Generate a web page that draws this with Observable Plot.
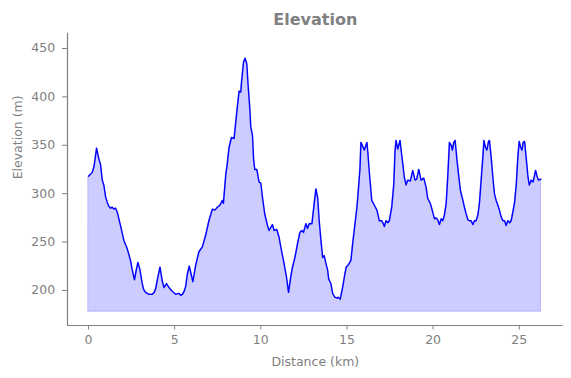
<!DOCTYPE html>
<html>
<head>
<meta charset="utf-8">
<script src="https://cdn.jsdelivr.net/npm/d3@7"></script>
<script src="https://cdn.jsdelivr.net/npm/@observablehq/plot@0.6"></script>
<style>
  html, body { margin: 0; padding: 0; background: #fff; }
  svg { display: block; }
</style>
</head>
<body>
<div id="chart"></div>
<script>
const distanceKm = [
  0.00, 0.22, 0.32, 0.47, 0.60, 0.70, 0.80, 0.89, 0.99, 1.09, 1.18, 1.28, 1.38, 1.47, 1.57, 1.67,
  1.86, 2.05, 2.25, 2.44, 2.53, 2.67, 2.76, 2.87, 2.98, 3.12, 3.20, 3.31, 3.51, 3.70, 3.81, 3.90,
  4.03, 4.15, 4.28, 4.38, 4.53, 4.67, 4.77, 4.87, 5.06, 5.25, 5.35, 5.45, 5.55, 5.64, 5.74, 5.85,
  5.97, 6.06, 6.22, 6.41, 6.61, 6.80, 6.99, 7.19, 7.33, 7.48, 7.63, 7.77, 7.83, 7.97, 8.05, 8.16,
  8.30, 8.45, 8.60, 8.74, 8.84, 8.88, 9.00, 9.09, 9.19, 9.26, 9.36, 9.42, 9.52, 9.58, 9.65, 9.77,
  9.90, 10.00, 10.10, 10.23, 10.39, 10.48, 10.68, 10.77, 10.93, 11.06, 11.16, 11.35, 11.49, 11.61,
  11.74, 11.84, 11.98, 12.13, 12.27, 12.38, 12.48, 12.62, 12.71, 12.81, 12.97, 13.10, 13.20, 13.30,
  13.39, 13.49, 13.59, 13.68, 13.78, 13.88, 13.94, 14.07, 14.17, 14.30, 14.42, 14.49, 14.61, 14.75,
  14.88, 14.96, 15.10, 15.23, 15.33, 15.47, 15.58, 15.66, 15.76, 15.81, 16.01, 16.16, 16.22, 16.31,
  16.44, 16.59, 16.74, 16.88, 17.02, 17.11, 17.17, 17.27, 17.37, 17.46, 17.60, 17.72, 17.79, 17.85,
  17.95, 18.08, 18.24, 18.33, 18.43, 18.53, 18.68, 18.82, 18.95, 19.05, 19.17, 19.30, 19.46, 19.59,
  19.69, 19.84, 19.98, 20.08, 20.17, 20.27, 20.37, 20.47, 20.56, 20.66, 20.76, 20.85, 20.95, 21.05,
  21.12, 21.20, 21.28, 21.38, 21.47, 21.59, 21.73, 21.82, 21.92, 22.02, 22.11, 22.21, 22.31, 22.40,
  22.50, 22.60, 22.69, 22.79, 22.89, 22.95, 23.04, 23.12, 23.22, 23.27, 23.37, 23.47, 23.56, 23.66,
  23.76, 23.85, 23.95, 24.05, 24.15, 24.24, 24.34, 24.44, 24.53, 24.63, 24.73, 24.83, 24.92, 25.00,
  25.08, 25.16, 25.23, 25.31, 25.41, 25.51, 25.58, 25.70, 25.80, 25.89, 25.95, 26.05, 26.12, 26.26
];
const elevationM = [
  318, 322, 328, 347, 336, 330, 314, 309, 297, 291, 287, 285, 286, 284, 285, 281,
  267, 252, 243, 231, 222, 211, 220, 229, 222, 207, 201, 198, 196, 196, 198, 202,
  214, 224, 210, 203, 207, 203, 201, 199, 196, 197, 195, 196, 199, 204, 217, 225,
  216, 209, 226, 240, 245, 257, 272, 284, 283, 286, 288, 293, 290, 320, 330, 348,
  358, 357, 383, 406, 405, 415, 436, 440, 434, 413, 389, 369, 360, 336, 325, 325,
  312, 311, 296, 279, 267, 262, 268, 262, 263, 255, 245, 228, 214, 198,
  214, 224, 234, 248, 260, 262, 260, 269, 264, 269, 269, 290, 305, 296,
  272, 252, 234, 236, 228, 221, 212, 207, 197, 193, 192, 193, 191, 203,
  217, 224, 227, 231, 248, 269, 286, 303, 327, 353, 345, 353, 341, 320,
  293, 288, 283, 272, 272, 269, 266, 272, 270, 272, 286, 310, 344, 355,
  346, 355, 331, 317, 309, 314, 313, 324, 314, 315, 325, 314, 316, 307,
  295, 290, 281, 274, 275, 273, 268, 274, 272, 278, 290, 317, 353, 350,
  345, 353, 355, 336, 321, 303, 293, 286, 279, 273, 272, 272, 268, 272,
  272, 278, 290, 314, 338, 355, 348, 345, 354, 355, 338, 317, 300, 293,
  288, 283, 276, 272, 272, 267, 272, 270, 272, 281, 291, 310, 338, 354,
  348, 345, 353, 354, 336, 317, 309, 314, 312, 319, 324, 317, 314, 315
];
const baselineM = 178;
const xTicks = [0, 5, 10, 15, 20, 25];
const yTicks = [200, 250, 300, 350, 400, 450];
const xDomain = [-1.22, 27.55];
const yDomain = [163.8, 465.8];
const titleText = "Elevation";
const xLabel = "Distance (km)";
const yLabel = "Elevation (m)";

const data = distanceKm.map((d, i) => ({ d, e: elevationM[i], b: baselineM }));
const gray = "#808080";

const chart = Plot.plot({
  width: 571,
  height: 378,
  marginLeft: 67,
  marginRight: 8.3,
  marginTop: 32.7,
  marginBottom: 53,
  style: { fontFamily: "DejaVu Sans", fontSize: "12.5px", color: gray, background: "#fff" },
  x: { domain: xDomain },
  y: { domain: yDomain },
  marks: [
    Plot.areaY(data, { x: "d", y1: "b", y2: "e", fill: "blue", fillOpacity: 0.2, stroke: "blue", strokeOpacity: 0.2, strokeWidth: 1 }),
    Plot.lineY(data, { x: "d", y: "e", stroke: "blue", strokeWidth: 1.4, strokeLinejoin: "round" }),
    Plot.ruleX([xDomain[0]], { stroke: gray, strokeWidth: 1.2 }),
    Plot.ruleY([yDomain[0]], { stroke: gray, strokeWidth: 1.2 }),
    Plot.axisX({ ticks: xTicks, tickSize: 4.5, tickPadding: 5.5, stroke: gray, fill: gray, label: null, fontSize: 12.5 }),
    Plot.axisY({ ticks: yTicks, tickSize: 5, tickPadding: 7.4, stroke: gray, fill: gray, label: null, fontSize: 12.5 }),
    Plot.text([titleText], { frameAnchor: "top", dy: -20, fontWeight: "bold", fontSize: 16, fill: gray }),
    Plot.text([xLabel], { frameAnchor: "bottom", dy: 40, fontSize: 12.5, fill: gray }),
    Plot.text([yLabel], { frameAnchor: "left", dx: -50, rotate: -90, fontSize: 12.5, fill: gray })
  ]
});
document.getElementById("chart").appendChild(chart);
</script>
</body>
</html>
